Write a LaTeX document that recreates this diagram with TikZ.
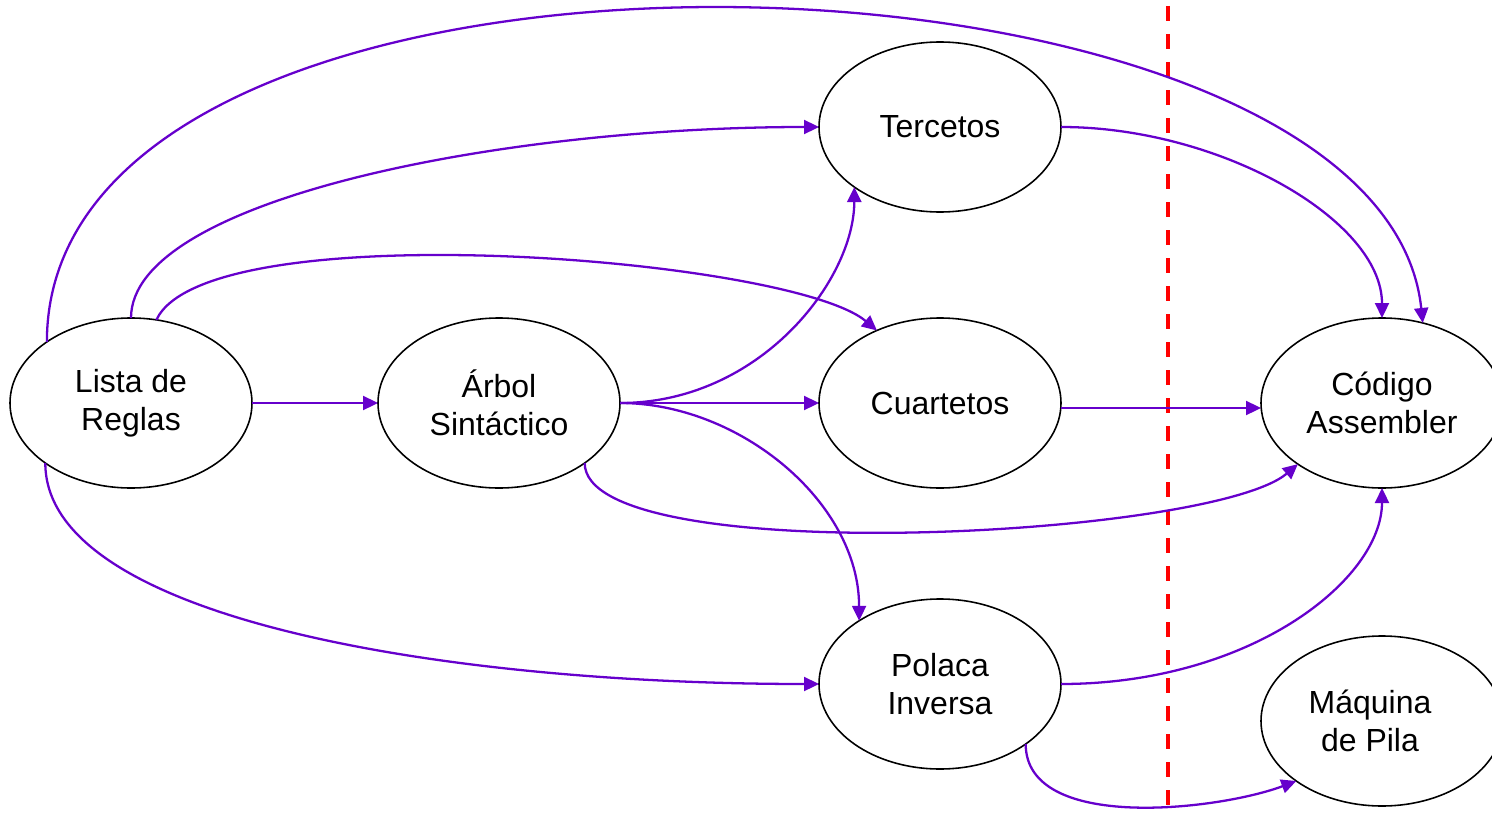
\documentclass[tikz,border=0pt]{standalone}
\usepackage{fontspec}
\setmainfont{Liberation Sans}
\usetikzlibrary{arrows.meta,shapes.geometric}
\definecolor{violeta}{RGB}{102,0,204}
\tikzset{
  fase/.style = {ellipse, draw=black, line width=0.45pt, align=center,
    minimum width=2.42cm, minimum height=1.7cm, inner sep=0pt, outer sep=0pt,
    font=\fontsize{9.1}{10.9}\selectfont},% etapa del compilador
  flecha/.style = {draw=violeta, line width=0.65pt,
    -{Triangle[length=1.5mm, width=1.4mm]}},% paso entre etapas
  corte/.style = {draw=red, line width=1pt, dash pattern=on 1.5mm off 1.3mm}% limite
}
\begin{document}
\begin{tikzpicture}
\useasboundingbox (0,0) rectangle (14.92,8.16);
\node [fase] (lista) at (1.31,4.13) {Lista de\\Reglas};
\node [fase] (arbol) at (4.99,4.13) {Árbol\\Sintáctico};
\node [fase] (tercetos) at (9.40,6.89) {Tercetos};
\node [fase] (cuartetos) at (9.40,4.13) {Cuartetos};
\node [fase] (polaca) at (9.40,1.32) {Polaca\\Inversa};
\node [fase] (codigo) at (13.82,4.13) {Código\\Assembler};
\node [fase] (maquina) at (13.82,0.95) {Máquina\hspace*{0.24cm}\\de Pila\hspace*{0.24cm}};

\coordinate (corte_a) at (11.68,8.10);
\coordinate (corte_b) at (11.68,0);
\draw [corte] (corte_a) -- (corte_b);

\draw [flecha] (lista.144) .. controls +(0,4.6) and +(-0.42,4.03) .. (codigo.63);
\draw [flecha] (lista.north) .. controls +(0,1.18) and +(-3.2,0) .. (tercetos.west);
\draw [flecha] (lista.73) .. controls +(0.5,1.08) and +(-0.87,0.73) .. (cuartetos.131);
\draw [flecha] (lista.east) -- (arbol.west);
\draw [flecha] (lista.215) .. controls +(0,-1.57) and +(-3.7,0) .. (polaca.west);
\draw [flecha] (arbol.east) .. controls +(1.4,0) and +(0,-0.93) .. (tercetos.215);
\draw [flecha] (arbol.east) -- (cuartetos.west);
\draw [flecha] (arbol.east) .. controls +(1.2,0) and +(0,1.18) .. (polaca.142);
\draw [flecha] (arbol.-35) .. controls +(0,-1.07) and +(-0.87,-0.74) .. (codigo.216);
\draw [flecha] (tercetos.east) .. controls +(1.59,0) and +(0,0.98) .. (codigo.north);
\draw [flecha] ([yshift=-0.5mm]cuartetos.east) -- ([yshift=-0.5mm]codigo.west);
\draw [flecha] (polaca.east) .. controls +(1.89,0) and +(0,-0.92) .. (codigo.south);
\draw [flecha] (polaca.-35) .. controls +(0,-0.89) and +(-0.77,-0.29) .. (maquina.215);
\end{tikzpicture}
\end{document}
